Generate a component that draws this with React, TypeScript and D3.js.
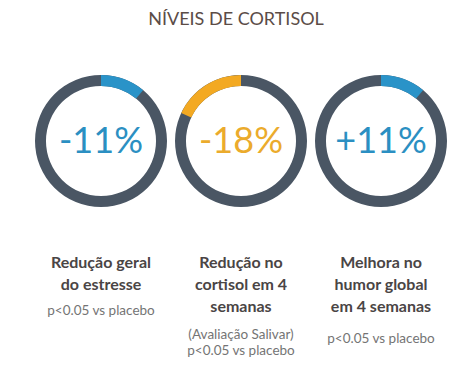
import * as d3 from "d3";
import { useEffect, useRef } from "react";

const title = "NÍVEIS DE CORTISOL";
const changes = [11, 18, 11];
const changeLabels = ["-11%", "-18%", "+11%"];
const arcDirection = [1, -1, 1];
const headlines = [
  ["Redução geral", "do estresse"],
  ["Redução no", "cortisol em 4", "semanas"],
  ["Melhora no", "humor global", "em 4 semanas"],
];
const notes = [
  ["p<0.05 vs placebo"],
  ["(Avaliação Salivar)", "p<0.05 vs placebo"],
  ["p<0.05 vs placebo"],
];

const BLUE = "#2a93c8";
const ORANGE = "#f3a922";
const RING = "#4a5664";
const accent = [BLUE, ORANGE, BLUE];
const numberColor = ["#2b8fc2", "#ebab2c", "#2b8fc2"];

export default function App() {
  const ref = useRef<SVGSVGElement>(null);

  useEffect(() => {
    const width = 470;
    const height = 368;
    const svg = d3.select(ref.current);
    svg.selectAll("*").remove();
    svg.attr("width", width).attr("height", height);

    svg.append("rect").attr("width", width).attr("height", height).attr("fill", "#fff");

    svg.append("text")
      .attr("x", 236)
      .attr("y", 25)
      .attr("text-anchor", "middle")
      .attr("font-family", "Lato, sans-serif")
      .attr("font-size", 18)
      .attr("fill", "#5b4c47")
      .text(title);

    const x = d3.scalePoint<number>().domain(d3.range(changes.length)).range([101, 381]);
    const pct = d3.scaleLinear().domain([0, 100]).range([0, 2 * Math.PI]);
    const cy = 141;
    const arc = d3.arc<any>().innerRadius(55).outerRadius(66);

    const g = svg.selectAll("g.item")
      .data(changes)
      .enter()
      .append("g")
      .attr("class", "item")
      .attr("transform", (_, i) => `translate(${x(i)},0)`);

    g.append("path")
      .attr("transform", `translate(0,${cy})`)
      .attr("d", () => arc({ startAngle: 0, endAngle: 2 * Math.PI }))
      .attr("fill", RING);

    g.append("path")
      .attr("transform", `translate(0,${cy})`)
      .attr("d", (d, i) =>
        arcDirection[i] > 0
          ? arc({ startAngle: 0, endAngle: pct(d) })
          : arc({ startAngle: -pct(d), endAngle: 0 })
      )
      .attr("fill", (_, i) => accent[i]);

    g.append("text")
      .attr("y", 153)
      .attr("text-anchor", "middle")
      .attr("font-family", "Lato, sans-serif")
      .attr("font-weight", 400)
      .attr("font-size", 36)
      .attr("fill", (_, i) => numberColor[i])
      .text((_, i) => changeLabels[i]);

    g.each(function (_, i) {
      const sel = d3.select(this);
      headlines[i].forEach((line, j) => {
        sel.append("text")
          .attr("y", 268 + j * 22)
          .attr("text-anchor", "middle")
          .attr("font-family", "Lato, sans-serif")
          .attr("font-weight", 700)
          .attr("font-size", 16)
          .attr("fill", "#4a4545")
          .text(line);
      });
      const noteStart = headlines[i].length === 2 ? 315 : i === 1 ? 339 : 343;
      notes[i].forEach((line, j) => {
        sel.append("text")
          .attr("y", noteStart + j * 16)
          .attr("text-anchor", "middle")
          .attr("font-family", "Lato, sans-serif")
          .attr("font-weight", 400)
          .attr("font-size", 13.5)
          .attr("fill", "#747474")
          .text(line);
      });
    });
  }, []);

  return (
    <div style={{ position: "absolute", left: 0, top: 0 }}>
      <svg ref={ref}></svg>
    </div>
  );
}
